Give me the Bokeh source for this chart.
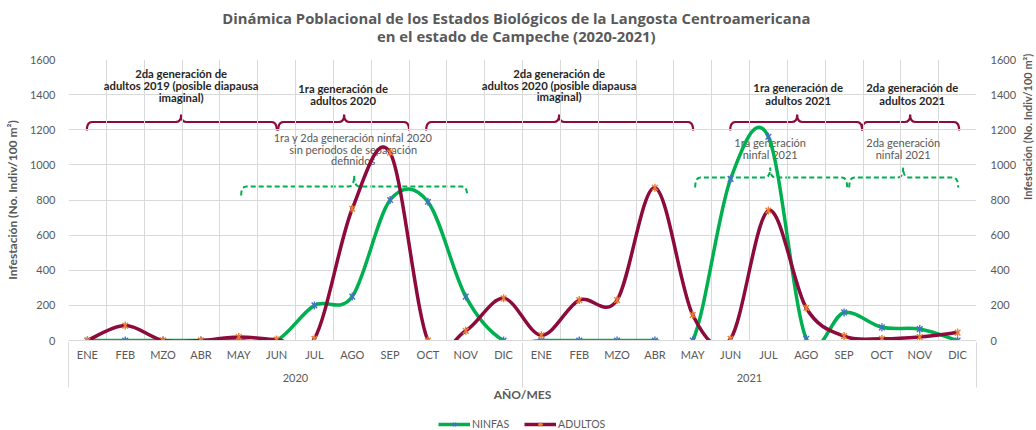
import numpy as np
from bokeh.plotting import figure
from bokeh.layouts import column
from bokeh.models import (Range1d, FixedTicker, LinearAxis, Label, Legend, LegendItem)
from bokeh.embed import file_html
from bokeh.resources import INLINE

# ---------------- data ----------------
months = ["ENE", "FEB", "MZO", "ABR", "MAY", "JUN", "JUL", "AGO", "SEP", "OCT", "NOV", "DIC"]
years = ["2020", "2021"]
ninfas = [0, 0, 0, 0, 0, 0, 200, 250, 800, 790, 250, 0,
          0, 0, 0, 0, 0, 920, 1160, 10, 160, 75, 65, 0]
adultos = [0, 85, 0, 0, 20, 5, 10, 750, 1070, 0, 55, 240,
           30, 230, 230, 870, 145, 10, 740, 185, 25, 10, 20, 45]
y_ticks = [0, 200, 400, 600, 800, 1000, 1200, 1400, 1600]
title_lines = ["Dinámica Poblacional de los Estados Biológicos de la Langosta Centroamericana",
               "en el estado de Campeche (2020-2021)"]
series_names = ["NINFAS", "ADULTOS"]

FONT = "Lato"
GRAY = "#595959"
GREEN = "#00B050"
MAROON = "#8C0A3C"
BLUE = "#4472C4"
ORANGE = "#ED7D31"
Y_LABEL = "Infestación (No. Indiv/100 m²)"

n = len(ninfas)
xs = list(range(n))

# ---------------- title strip ----------------
tf = figure(width=1036, height=46, x_range=Range1d(0, 1), y_range=Range1d(0, 46),
            output_backend="svg", toolbar_location=None, min_border=0, title=None)
tf.axis.visible = False
tf.grid.visible = False
tf.outline_line_color = None
for ty, line in zip([29, 11], title_lines):
    tf.add_layout(Label(x=0.497, y=ty, text=line, text_align="center", text_baseline="middle",
                        text_font="Open Sans", text_font_size="14.8px", text_font_style="bold",
                        text_color=GRAY))

# ---------------- main chart ----------------
p = figure(frame_width=908, frame_height=281, title=None,
           x_range=Range1d(-0.5, n - 0.5), y_range=Range1d(0, 1600),
           output_backend="svg", toolbar_location=None,
           min_border_left=68, min_border_right=60, min_border_top=13, min_border_bottom=78)
p.outline_line_color = None
p.background_fill_color = "white"

# grids
p.xgrid.ticker = FixedTicker(ticks=[k - 0.5 for k in range(n + 1)])
p.xgrid.grid_line_color = "#D9D9D9"
p.ygrid.grid_line_color = "#D9D9D9"


def style_y(ax, standoff, label_size):
    ax.axis_line_color = None
    ax.major_tick_line_color = None
    ax.minor_tick_line_color = None
    ax.major_tick_out = 0
    ax.major_tick_in = 0
    ax.major_label_standoff = standoff
    ax.major_label_text_color = GRAY
    ax.major_label_text_font = FONT
    ax.major_label_text_font_size = "11px"
    ax.axis_label = Y_LABEL
    ax.axis_label_text_font = FONT
    ax.axis_label_text_font_style = "bold"
    ax.axis_label_text_font_size = label_size
    ax.axis_label_text_color = GRAY


# left y axis
ya = p.yaxis[0]
ya.ticker = FixedTicker(ticks=y_ticks)
style_y(ya, 13, "12px")
ya.axis_label_standoff = 7

# right y axis
yr = LinearAxis(ticker=FixedTicker(ticks=y_ticks))
style_y(yr, 14, "11px")
yr.axis_label_standoff = 8
if "axis_label_orientation" in yr.properties():
    yr.axis_label_orientation = np.pi / 2
p.add_layout(yr, "right")

# month axis
xa = p.xaxis[0]
xa.ticker = FixedTicker(ticks=xs)
xa.major_label_overrides = {i: months[i % 12] for i in xs}
xa.major_tick_line_color = None
xa.minor_tick_line_color = None
xa.major_tick_out = 0
xa.major_tick_in = 0
xa.axis_line_color = "#D9D9D9"
xa.major_label_standoff = 7
xa.major_label_text_color = GRAY
xa.major_label_text_font = FONT
xa.major_label_text_font_size = "11px"

# year axis (group labels + separators)
year_pos = [5.5, 17.5]
yax = LinearAxis(ticker=FixedTicker(ticks=year_pos, minor_ticks=[-0.5, 11.5, 23.5]))
yax.major_label_overrides = {year_pos[i]: years[i] for i in range(2)}
yax.axis_line_color = None
yax.major_tick_line_color = None
yax.major_tick_in = 0
yax.major_tick_out = 0
yax.minor_tick_line_color = "#D9D9D9"
yax.minor_tick_in = 21
yax.minor_tick_out = 24
yax.major_label_standoff = -14
yax.major_label_text_color = GRAY
yax.major_label_text_font = FONT
yax.major_label_text_font_size = "11px"
yax.axis_label = "AÑO/MES"
yax.axis_label_text_font = FONT
yax.axis_label_text_font_style = "bold"
yax.axis_label_text_font_size = "12px"
yax.axis_label_text_color = GRAY
yax.axis_label_standoff = 2
p.add_layout(yax, "below")


# ---------- smoothed series (Excel-style Catmull-Rom bezier) ----------
def bez(x, y):
    m = len(x)
    d = dict(x0=[], y0=[], x1=[], y1=[], cx0=[], cy0=[], cx1=[], cy1=[])
    for i in range(m - 1):
        xp, yp = (x[i - 1], y[i - 1]) if i > 0 else (x[i], y[i])
        xn, yn = (x[i + 2], y[i + 2]) if i + 2 < m else (x[i + 1], y[i + 1])
        d["x0"].append(x[i]); d["y0"].append(y[i])
        d["x1"].append(x[i + 1]); d["y1"].append(y[i + 1])
        d["cx0"].append(x[i] + (x[i + 1] - xp) / 6); d["cy0"].append(y[i] + (y[i + 1] - yp) / 6)
        d["cx1"].append(x[i + 1] - (xn - x[i]) / 6); d["cy1"].append(y[i + 1] - (yn - y[i]) / 6)
    return d


def markers(fig, x, vals, mc):
    m1 = fig.scatter(x, vals, marker="x", size=8, line_color=mc, line_width=1.4)
    m2 = fig.scatter(x, vals, marker="dash", angle=np.pi / 2, size=8, line_color=mc, line_width=1.4)
    return [m1, m2]


p.bezier(line_color=GREEN, line_width=3.5, line_cap="round", **bez(xs, ninfas))
markers(p, xs, ninfas, BLUE)
p.bezier(line_color=MAROON, line_width=3.5, line_cap="round", **bez(xs, adultos))
markers(p, xs, adultos, ORANGE)

# ---------------- annotations ----------------
def X(px):
    return (px - 87.3) / 37.83


def Y(py):
    return (340 - py) * 1600 / 281


def brace(x0, x1, xm, yh, yend, ytop, color, dash, width):
    r = 0.14
    pts_x, pts_y = [], []

    def quad(a, c, b, k=6):
        for t in np.linspace(0, 1, k):
            pts_x.append((1 - t) ** 2 * a[0] + 2 * (1 - t) * t * c[0] + t ** 2 * b[0])
            pts_y.append((1 - t) ** 2 * a[1] + 2 * (1 - t) * t * c[1] + t ** 2 * b[1])

    quad((x0, yend), (x0, yh), (x0 + r, yh))
    quad((xm - r, yh), (xm, yh), (xm, ytop))
    quad((xm, ytop), (xm, yh), (xm + r, yh))
    quad((x1 - r, yh), (x1, yh), (x1, yend))
    p.line(pts_x, pts_y, line_color=color, line_width=width, line_dash=dash, level="underlay")


# maroon braces (adults)
for a, b, m in [(86.7, 276.7, 181), (278, 409, 344), (426, 693, 559), (730, 862, 797), (862, 959, 910)]:
    brace(X(a), X(b), X(m), Y(121.5), Y(130), Y(114), MAROON, "solid", 2.2)
# green dashed braces (nymphs)
brace(X(241), X(467), X(354), Y(186), Y(195), Y(175), GREEN, "5 3", 2)
for a, b, m in [(695, 847, 770), (849, 958, 903)]:
    brace(X(a), X(b), X(m), Y(177), Y(187), Y(167), GREEN, "5 3", 2)


def txt(px, py, s, bold=True, color="#262626", size="11.3px"):
    p.add_layout(Label(x=X(px), y=Y(py), text=s, text_align="center", text_baseline="middle",
                       text_font=FONT, text_font_size=size, text_color=color,
                       text_font_style="bold" if bold else "normal", level="underlay"))


txt(181, 73, "2da generación de")
txt(181, 85, "adultos 2019 (posible diapausa")
txt(181, 97, "imaginal)")
txt(343, 88, "1ra generación de")
txt(343, 100, "adultos 2020")
txt(559, 73, "2da generación de")
txt(559, 85, "adultos 2020 (posible diapausa")
txt(559, 96, "imaginal)")
txt(798, 87, "1ra generación de")
txt(798, 100, "adultos 2021")
txt(912, 87, "2da generación de")
txt(912, 100, "adultos 2021")

txt(353, 137, "1ra y 2da generación ninfal 2020", bold=False, color=GRAY, size="11px")
txt(353, 149, "sin periodos de separación", bold=False, color=GRAY, size="11px")
txt(353, 160, "definidos", bold=False, color=GRAY, size="11px")
txt(770, 142, "1ra generación", bold=False, color=GRAY, size="11px")
txt(770, 154, "ninfal 2021", bold=False, color=GRAY, size="11px")
txt(903, 142, "2da generación", bold=False, color=GRAY, size="11px")
txt(903, 154, "ninfal 2021", bold=False, color=GRAY, size="11px")

# ---------------- legend strip (separate small figure below) ----------------
# the series are drawn here only as legend samples; the ranges keep them out of view
lf = figure(width=1036, height=12, x_range=Range1d(1000, 1001), y_range=Range1d(5000, 5001),
            output_backend="svg", toolbar_location=None, min_border=0, title=None)
lf.axis.visible = False
lf.grid.visible = False
lf.outline_line_color = None
lr_n = [lf.line(xs, ninfas, line_color=GREEN, line_width=3.5)] + markers(lf, xs, ninfas, BLUE)
lr_a = [lf.line(xs, adultos, line_color=MAROON, line_width=3.5)] + markers(lf, xs, adultos, ORANGE)
leg = Legend(items=[LegendItem(label=series_names[0], renderers=lr_n),
                    LegendItem(label=series_names[1], renderers=lr_a)],
             orientation="horizontal", location=(370, 0))
leg.border_line_color = None
leg.background_fill_alpha = 0
leg.padding = 0
leg.margin = 0
leg.spacing = 15
leg.glyph_width = 32
leg.glyph_height = 12
leg.label_standoff = 2
leg.label_height = 12
leg.label_text_font = FONT
leg.label_text_font_size = "10.5px"
leg.label_text_color = GRAY
lf.add_layout(leg, "center")

open("out.html", "w").write(file_html(column(tf, p, lf), INLINE))
